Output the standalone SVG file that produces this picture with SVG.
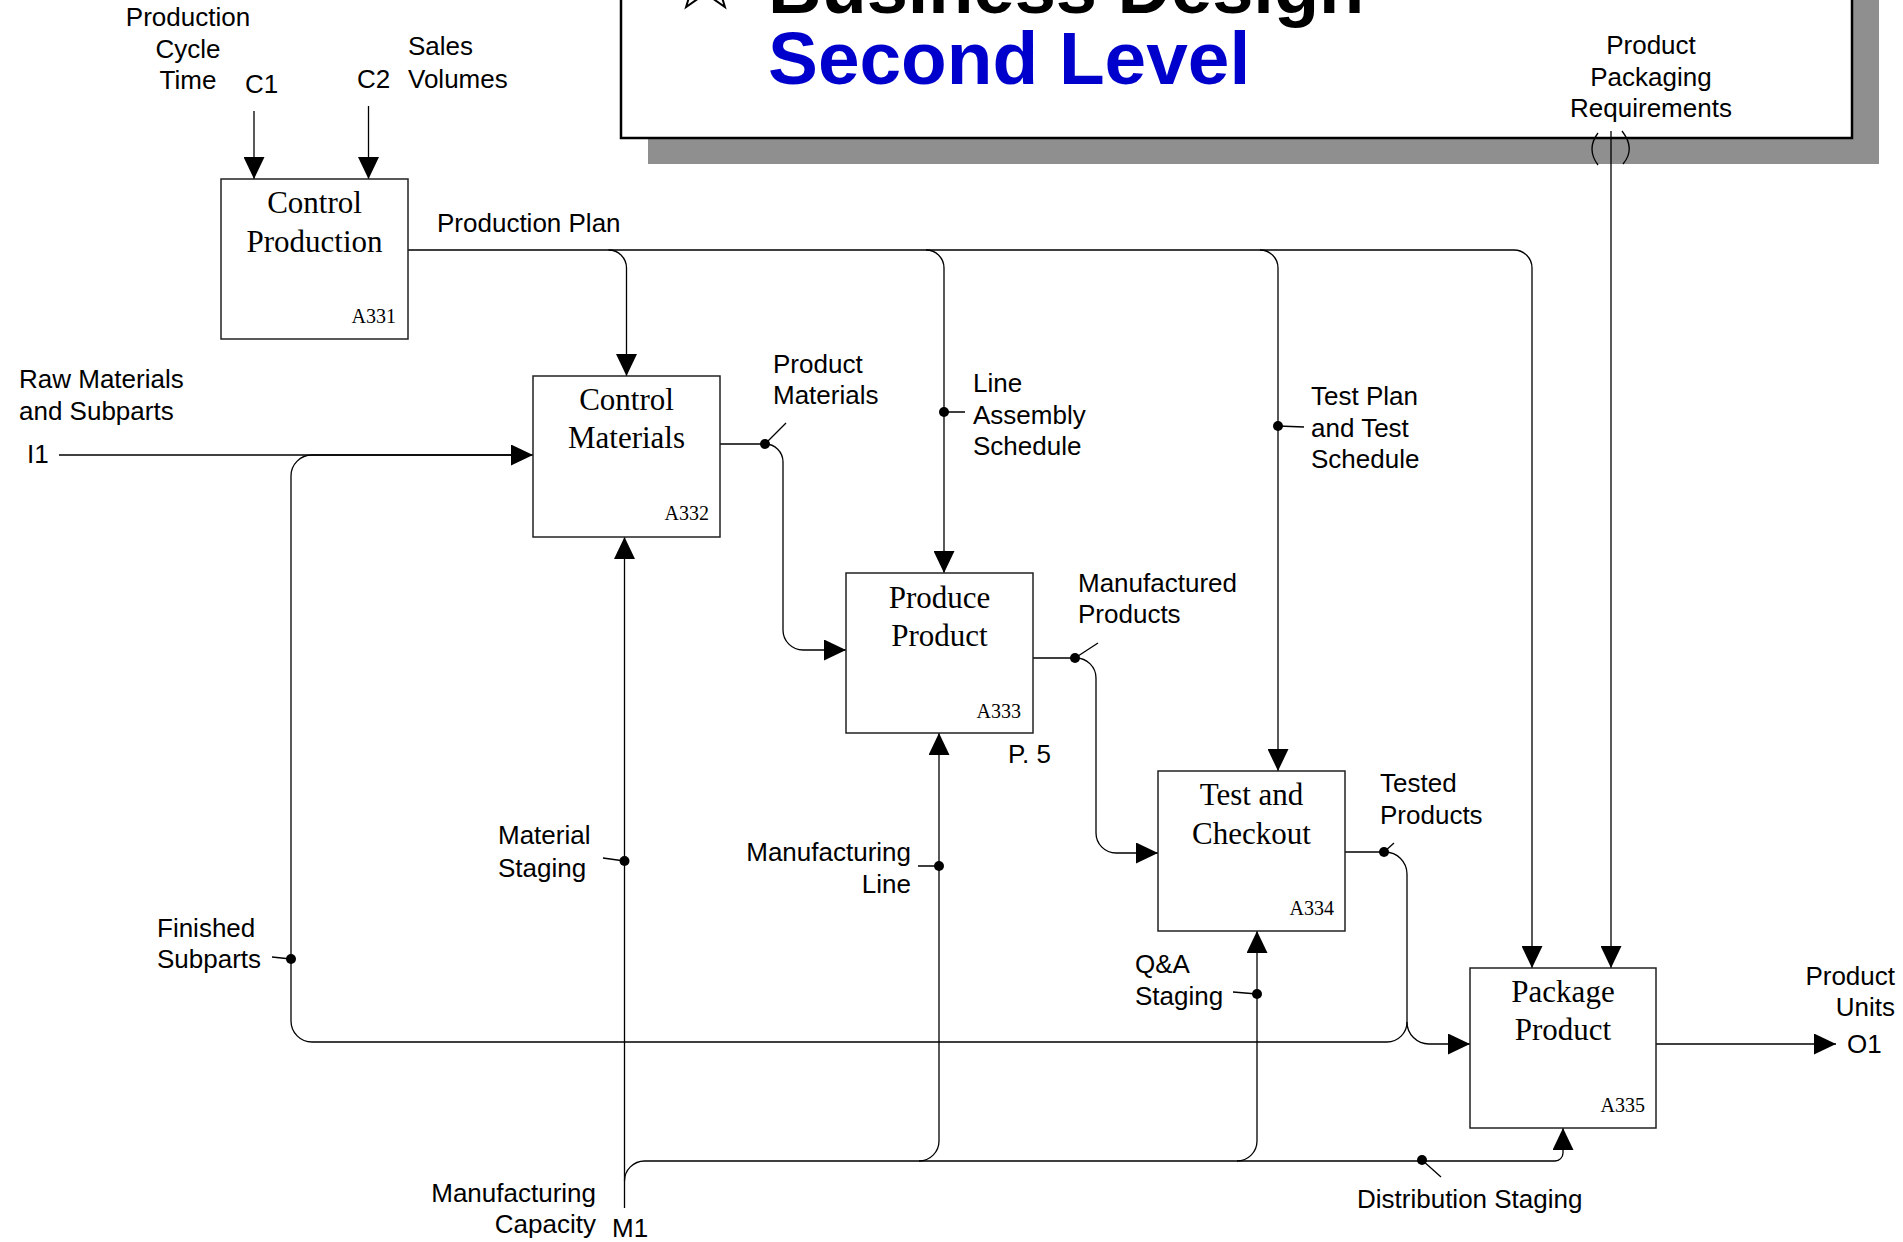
<svg xmlns="http://www.w3.org/2000/svg" width="1903" height="1242" viewBox="0 0 1903 1242">
<defs>
<marker id="ah" viewBox="0 0 22 21" refX="22" refY="10.5" markerWidth="22" markerHeight="21" markerUnits="userSpaceOnUse" orient="auto"><path d="M0,0 L22,10.5 L0,21 z" fill="#000"/></marker>
<style>
.lbl{font-family:"Liberation Sans",Arial,sans-serif;font-size:26px;fill:#000}
.box{fill:#fff;stroke:#222;stroke-width:1.5}
.bt{font-family:"Liberation Serif","Times New Roman",serif;font-size:31px;fill:#000;text-anchor:middle}
.bn{font-family:"Liberation Serif","Times New Roman",serif;font-size:20px;fill:#000;text-anchor:end}
.ln{fill:none;stroke:#000;stroke-width:1.3}
.ar{marker-end:url(#ah)}
.dot{fill:#000}
.mid{text-anchor:middle}
.end{text-anchor:end}
</style>
</defs>
<rect width="1903" height="1242" fill="#fff"/>

<g id="title">
<rect x="648" y="-34" width="1231" height="198" fill="#8f8f8f"/>
<rect x="621" y="-60" width="1231" height="198" fill="#fff" stroke="#000" stroke-width="2.5"/>
<polygon points="705.5,-52.7 713.3,-30.4 736.9,-29.9 718.1,-15.6 724.9,7 705.5,-6.5 686.1,7 692.9,-15.6 674.1,-29.9 697.7,-30.4" fill="#fff" stroke="#000" stroke-width="2"/>
<text x="768" y="13" font-family="Liberation Sans,Arial,sans-serif" font-size="74" font-weight="bold" fill="#000">Business Design</text>
<text x="768" y="84" font-family="Liberation Sans,Arial,sans-serif" font-size="74.8" font-weight="bold" fill="#0000cc">Second Level</text>
</g>

<g id="connectors">
<path class="ln ar" d="M254,111 V179"/>
<path class="ln ar" d="M368.5,106 V179"/>
<path class="ln ar" d="M408,250 H1514 A18,18 0 0 1 1532,268 V968"/>
<path class="ln ar" d="M608.5,250 A18,18 0 0 1 626.5,268 V376"/>
<path class="ln ar" d="M926,250 A18,18 0 0 1 944,268 V573"/>
<path class="ln ar" d="M1260,250 A18,18 0 0 1 1278,268 V771"/>
<path class="ln ar" d="M59,455 H533"/>
<path class="ln" d="M1407,1022 A20,20 0 0 1 1387,1042 H312 A21,21 0 0 1 291,1021 V476 A21,21 0 0 1 312,455 H512"/>
<path class="ln ar" d="M720,444 H765 A18,18 0 0 1 783,462 V630 A20,20 0 0 0 803,650 H846"/>
<path class="ln ar" d="M1033,658 H1076 A20,20 0 0 1 1096,678 V833 A20,20 0 0 0 1116,853 H1158"/>
<path class="ln ar" d="M1345,852 H1385 A22,22 0 0 1 1407,874 V1022 A22,22 0 0 0 1429,1044 H1470"/>
<path class="ln ar" d="M1656,1044 H1836"/>
<path class="ln ar" d="M1611,131 V968"/>
<path class="ln" d="M1598,133 Q1586,149 1598,165"/>
<path class="ln" d="M1622,131 Q1636,149 1623,164"/>
<path class="ln ar" d="M624.5,1208 V537"/>
<path class="ln ar" d="M624.5,1181 A20,20 0 0 1 644.5,1161 H1555 A8,8 0 0 0 1563,1153 V1128"/>
<path class="ln ar" d="M919,1161 A20,20 0 0 0 939,1141 V733"/>
<path class="ln ar" d="M1237,1161 A20,20 0 0 0 1257,1141 V931"/>
<circle class="dot" cx="765" cy="444" r="5"/>
<circle class="dot" cx="944" cy="412" r="5"/>
<circle class="dot" cx="1278" cy="426" r="5"/>
<circle class="dot" cx="1075" cy="658" r="5"/>
<circle class="dot" cx="1384" cy="852" r="5"/>
<circle class="dot" cx="291" cy="959" r="5"/>
<circle class="dot" cx="624.5" cy="861" r="5"/>
<circle class="dot" cx="939" cy="866" r="5"/>
<circle class="dot" cx="1257" cy="994" r="5"/>
<circle class="dot" cx="1422" cy="1160" r="5"/>
<path class="ln" d="M765,444 L786,423 M944,412 H965 M1278,426 L1304,427 M1075,658 L1098,643 M1384,852 L1394,843 M272,957 L291,959 M603,858 L624.5,861 M918,866 H939 M1233,992 L1257,994 M1422,1160 L1441,1177"/>
</g>

<g id="A331">
<rect class="box" x="221" y="179" width="187" height="160"/>
<text class="bt" x="314.5" y="213">Control</text>
<text class="bt" x="314.5" y="252">Production</text>
<text class="bn" x="396" y="323">A331</text>
</g>
<g id="A332">
<rect class="box" x="533" y="376" width="187" height="161"/>
<text class="bt" x="626.5" y="410">Control</text>
<text class="bt" x="626.5" y="448">Materials</text>
<text class="bn" x="709" y="520">A332</text>
</g>
<g id="A333">
<rect class="box" x="846" y="573" width="187" height="160"/>
<text class="bt" x="939.5" y="608">Produce</text>
<text class="bt" x="939.5" y="646">Product</text>
<text class="bn" x="1021" y="718">A333</text>
</g>
<g id="A334">
<rect class="box" x="1158" y="771" width="187" height="160"/>
<text class="bt" x="1251.5" y="805">Test and</text>
<text class="bt" x="1251.5" y="844">Checkout</text>
<text class="bn" x="1334" y="915">A334</text>
</g>
<g id="A335">
<rect class="box" x="1470" y="968" width="186" height="160"/>
<text class="bt" x="1563" y="1002">Package</text>
<text class="bt" x="1563" y="1040">Product</text>
<text class="bn" x="1645" y="1112">A335</text>
</g>

<g id="labels">
<text class="lbl mid" x="188" y="26">Production</text>
<text class="lbl mid" x="188" y="57.5">Cycle</text>
<text class="lbl mid" x="188" y="89">Time</text>
<text class="lbl" x="245" y="93">C1</text>
<text class="lbl" x="357" y="88">C2</text>
<text class="lbl" x="408" y="55">Sales</text>
<text class="lbl" x="408" y="88">Volumes</text>
<text class="lbl" x="437" y="232">Production Plan</text>
<text class="lbl mid" x="1651" y="54">Product</text>
<text class="lbl mid" x="1651" y="86">Packaging</text>
<text class="lbl mid" x="1651" y="117">Requirements</text>
<text class="lbl" x="19" y="388">Raw Materials</text>
<text class="lbl" x="19" y="420">and Subparts</text>
<text class="lbl" x="27" y="463">I1</text>
<text class="lbl" x="773" y="373">Product</text>
<text class="lbl" x="773" y="404">Materials</text>
<text class="lbl" x="973" y="392">Line</text>
<text class="lbl" x="973" y="424">Assembly</text>
<text class="lbl" x="973" y="455">Schedule</text>
<text class="lbl" x="1311" y="405">Test Plan</text>
<text class="lbl" x="1311" y="437">and Test</text>
<text class="lbl" x="1311" y="468">Schedule</text>
<text class="lbl" x="1078" y="592">Manufactured</text>
<text class="lbl" x="1078" y="623">Products</text>
<text class="lbl" x="1008" y="763">P. 5</text>
<text class="lbl" x="1380" y="792">Tested</text>
<text class="lbl" x="1380" y="824">Products</text>
<text class="lbl" x="498" y="844">Material</text>
<text class="lbl" x="498" y="877">Staging</text>
<text class="lbl end" x="911" y="861">Manufacturing</text>
<text class="lbl end" x="911" y="893">Line</text>
<text class="lbl" x="157" y="937">Finished</text>
<text class="lbl" x="157" y="968">Subparts</text>
<text class="lbl" x="1135" y="973">Q&amp;A</text>
<text class="lbl" x="1135" y="1005">Staging</text>
<text class="lbl end" x="1895" y="985">Product</text>
<text class="lbl end" x="1895" y="1016">Units</text>
<text class="lbl" x="1847" y="1053">O1</text>
<text class="lbl" x="1357" y="1208">Distribution Staging</text>
<text class="lbl end" x="596" y="1202">Manufacturing</text>
<text class="lbl end" x="596" y="1233">Capacity</text>
<text class="lbl" x="612" y="1237">M1</text>
</g>
</svg>
